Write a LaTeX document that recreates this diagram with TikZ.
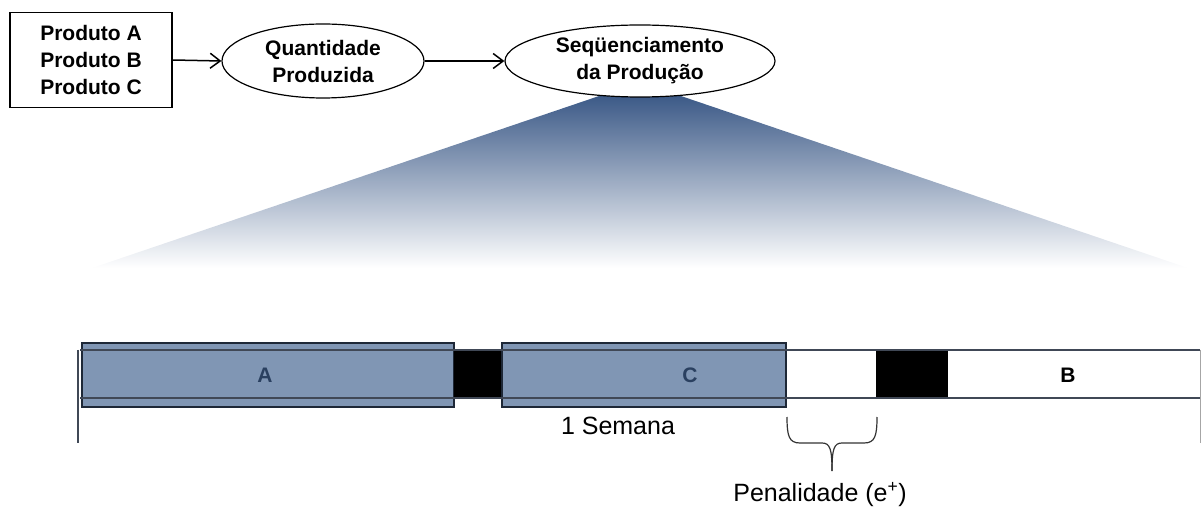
\documentclass[tikz,border=0pt]{standalone}
\usepackage{fontspec}
\setmainfont{Liberation Sans}
\usetikzlibrary{arrows.meta,shapes.geometric}
\definecolor{boxblue}{RGB}{128,150,180}
\definecolor{boxedge}{RGB}{30,40,55}
\definecolor{letterblue}{RGB}{42,64,96}
\definecolor{shtop}{RGB}{58,88,134}
\definecolor{shmid}{RGB}{118,142,178}
\definecolor{barline}{RGB}{64,72,86}
\newcommand{\topfont}{\fontsize{21}{27}\selectfont\bfseries}
\newcommand{\barfont}{\fontsize{21}{24}\selectfont\bfseries}
\newcommand{\lblfont}{\fontsize{25}{28}\selectfont}
\begin{document}
\begin{tikzpicture}[x=1pt,y=-1pt,
  arr/.style={line width=1.5pt,-{Straight Barb[length=10pt,width=15pt]}},
  oval/.style={ellipse,draw,line width=1.2pt,fill=white,inner sep=0pt},
  txt/.style={align=center,inner sep=0pt,font=\topfont},
  bluebox/.style={draw=boxedge,line width=1.3pt,fill=boxblue,inner sep=0pt,minimum height=64pt},
  blackbox/.style={draw=black,fill=black,inner sep=0pt,minimum height=47pt},
  bar/.style={draw=barline,line width=1.3pt}]
\useasboundingbox (0,0) rectangle (1202,510);
% gradient fan
\shade[top color=shtop, middle color=shmid, bottom color=white]
  (605,94) -- (675,94) -- (1188,268) -- (92,268) -- cycle;
% top row
\node[draw,line width=1.5pt,minimum width=162pt,minimum height=95pt,txt] (prod) at (91,60) {Produto A\\Produto B\\Produto C};
\node[oval,minimum width=202pt,minimum height=74pt] (q) at (323,61) {};
\node[txt] (qt) at (q.center) {Quantidade\\Produzida};
\node[oval,minimum width=270pt,minimum height=72pt] (s) at (640,61) {};
\node[txt] (st) at (s.center) {Seqüenciamento\\da Produção};
\draw[arr] (prod.east) -- (q.west);
\draw[arr] (q.east) -- (s.west);
% timeline
\coordinate (tl) at (80,350);
\coordinate (tr) at (1200,350);
\coordinate (bl) at (80,398);
\coordinate (br) at (1200,398);
\draw[barline,line width=1.5pt] (78,350) -- (78,443);
\draw[black!35,line width=1pt] (1200,350) -- (1200,443);
\node[bluebox,minimum width=372pt] (A) at (268,375) {};
\node[blackbox,minimum width=48pt] (k1) at (478,374.5) {};
\node[bluebox,minimum width=284pt] (C) at (644,375) {};
\node[blackbox,minimum width=71pt] (k2) at (912,374.5) {};
\draw[bar] (tl) -- (tr);
\draw[bar] (bl) -- (br);
\node[font=\barfont,text=letterblue] (la) at (265,375) {A};
\node[font=\barfont,text=letterblue] (lc) at (690,375) {C};
\node[font=\barfont] (lb) at (1068,375) {B};
% labels
\node[font=\lblfont,inner sep=0pt] (sem) at (618,426) {1 Semana};
\draw[line width=1.2pt,black!80] (787,417) .. controls (787,436) and (789,443) .. (800,443) -- (822,443)
  .. controls (830,443) and (832,449) .. (832,471);
\draw[line width=1.2pt,black!80] (877,417) .. controls (877,436) and (875,443) .. (864,443) -- (842,443)
  .. controls (834,443) and (832,449) .. (832,471);
\node[font=\lblfont,inner sep=0pt] (pen) at (820,495) {Penalidade (e\textsuperscript{+})};
\end{tikzpicture}
\end{document}
